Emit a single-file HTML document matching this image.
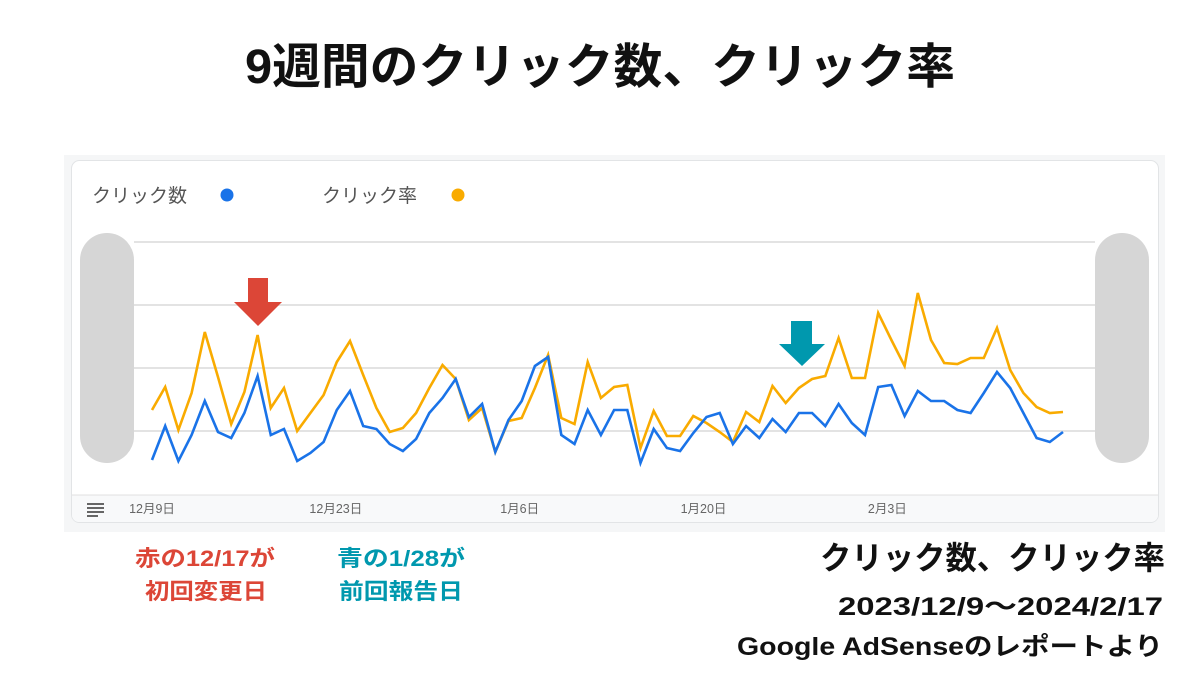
<!DOCTYPE html>
<html><head><meta charset="utf-8">
<style>
html,body{margin:0;padding:0;background:#fff;}
body{width:1200px;height:675px;overflow:hidden;font-family:"Liberation Sans","Noto Sans CJK JP",sans-serif;}
svg text{font-family:"Liberation Sans","Noto Sans CJK JP",sans-serif;}
</style></head>
<body>
<svg id="page" width="1200" height="675" viewBox="0 0 1200 675">
  <text x="245" y="83" textLength="710" lengthAdjust="spacingAndGlyphs" font-size="48" font-weight="bold" fill="#111">9週間のクリック数、クリック率</text>

  <rect x="64" y="155" width="1101" height="377" fill="#f5f6f7"/>
  <rect x="71.5" y="160.5" width="1087" height="362" rx="8" fill="#fff" stroke="#e2e4e6"/>
  <path d="M72 495 H1158 V515 a7 7 0 0 1 -7 7 H79 a7 7 0 0 1 -7 -7 Z" fill="#f8f9fa"/>
  <line x1="72" y1="495" x2="1158" y2="495" stroke="#e0e0e0"/>

  <g>
    <text x="92" y="202" font-size="19" fill="#555">クリック数</text>
    <circle cx="227" cy="195" r="6.5" fill="#1a73e8"/>
    <text x="322" y="202" font-size="19" fill="#555">クリック率</text>
    <circle cx="458" cy="195" r="6.5" fill="#f9ab00"/>
  </g>

  <g id="grid"></g>

  <rect x="80" y="233" width="54" height="230" rx="27" fill="#d6d6d6"/>
  <rect x="1095" y="233" width="54" height="230" rx="27" fill="#d6d6d6"/>

  <g id="series"></g>
  <g id="xticks"></g>

  <g fill="#666">
    <rect x="87" y="503" width="17" height="2"/><rect x="87" y="507" width="17" height="2"/><rect x="87" y="511" width="17" height="2"/><rect x="87" y="515" width="11" height="2"/>
  </g>

  <polygon points="248,278 268,278 268,302 282,302 258,326 234,302 248,302" fill="#dc4637"/>
  <polygon points="791,321 812,321 812,344 825,344 802,366 779,344 791,344" fill="#0098ae"/>

  <g font-weight="bold" font-size="22">
    <text x="135" y="566" textLength="140" lengthAdjust="spacingAndGlyphs" fill="#dc4637">赤の12/17が</text>
    <text x="145" y="599" textLength="122" lengthAdjust="spacingAndGlyphs" fill="#dc4637">初回変更日</text>
    <text x="337" y="566" textLength="128" lengthAdjust="spacingAndGlyphs" fill="#0098ae">青の1/28が</text>
    <text x="339" y="599" textLength="124" lengthAdjust="spacingAndGlyphs" fill="#0098ae">前回報告日</text>
  </g>
  <g font-weight="bold" fill="#111">
    <text x="820" y="569" textLength="345" lengthAdjust="spacingAndGlyphs" font-size="32">クリック数、クリック率</text>
    <text x="838" y="615" textLength="325" lengthAdjust="spacingAndGlyphs" font-size="25">2023/12/9〜2024/2/17</text>
    <text x="737" y="655" textLength="426" lengthAdjust="spacingAndGlyphs" font-size="25">Google AdSenseのレポートより</text>
  </g>
</svg>
<script>
const clicks = [34,68,33,59,93,62,56,81,118,59,65,33,41,52,84,103,68,65,50,43,55,81,96,115,77,90,42,74,93,128,137,59,50,84,59,84,84,31,65,46,43,61,77,81,50,68,56,75,62,81,81,68,90,71,59,107,109,78,103,93,93,84,81,101,122,106,81,56,52,62];
const ctr = [84,107,64,101,162,117,70,102,159,86,106,63,81,99,132,153,119,86,62,66,81,106,129,115,74,86,42,73,76,106,139,76,70,132,96,107,109,46,83,58,58,78,71,62,52,82,72,108,91,106,115,118,156,116,116,181,154,128,201,154,131,130,136,136,166,124,101,87,81,82];
const xTickLabels = ["12月9日","12月23日","1月6日","1月20日","2月3日"];
const xTickIndex = [0,14,28,42,56];
const gridValues = [63,126,189,252];

const X0=152, X1=1063, Y0=494, YPX=1;
const n = clicks.length;
function xScale(i){ return X0 + (X1-X0)*i/(n-1); }
function yScale(v){ return Y0 - v*YPX; }
const NS="http://www.w3.org/2000/svg";

const grid=document.getElementById('grid');
gridValues.forEach(function(g){
  const l=document.createElementNS(NS,'line');
  
  
  l.setAttribute('x1',134); l.setAttribute('x2',1095);
  l.setAttribute('y1',yScale(g)); l.setAttribute('y2',yScale(g));
  l.setAttribute('stroke','#e3e3e3'); l.setAttribute('stroke-width','2');
  grid.appendChild(l);
});

const series=document.getElementById('series');
function drawLine(vals,color,name){
  const p=document.createElementNS(NS,'polyline');
  
  
  p.setAttribute('points',vals.map(function(v,i){return xScale(i).toFixed(1)+','+yScale(v).toFixed(1);}).join(' '));
  p.setAttribute('fill','none'); p.setAttribute('stroke',color);
  p.setAttribute('stroke-width','2.6'); p.setAttribute('stroke-linejoin','miter');
  series.appendChild(p);
}
drawLine(ctr,'#f9ab00','ctr-line');
drawLine(clicks,'#1a73e8','clicks-line');

const xt=document.getElementById('xticks');
xTickLabels.forEach(function(lbl,k){
  const t=document.createElementNS(NS,'text');
  
  
  t.setAttribute('x',xScale(xTickIndex[k])-2*k/4*2);
  t.setAttribute('y',513);
  t.setAttribute('text-anchor','middle');
  t.setAttribute('font-size','12.5');
  t.setAttribute('fill','#666');
  t.textContent=lbl;
  xt.appendChild(t);
});
</script>
</body></html>
